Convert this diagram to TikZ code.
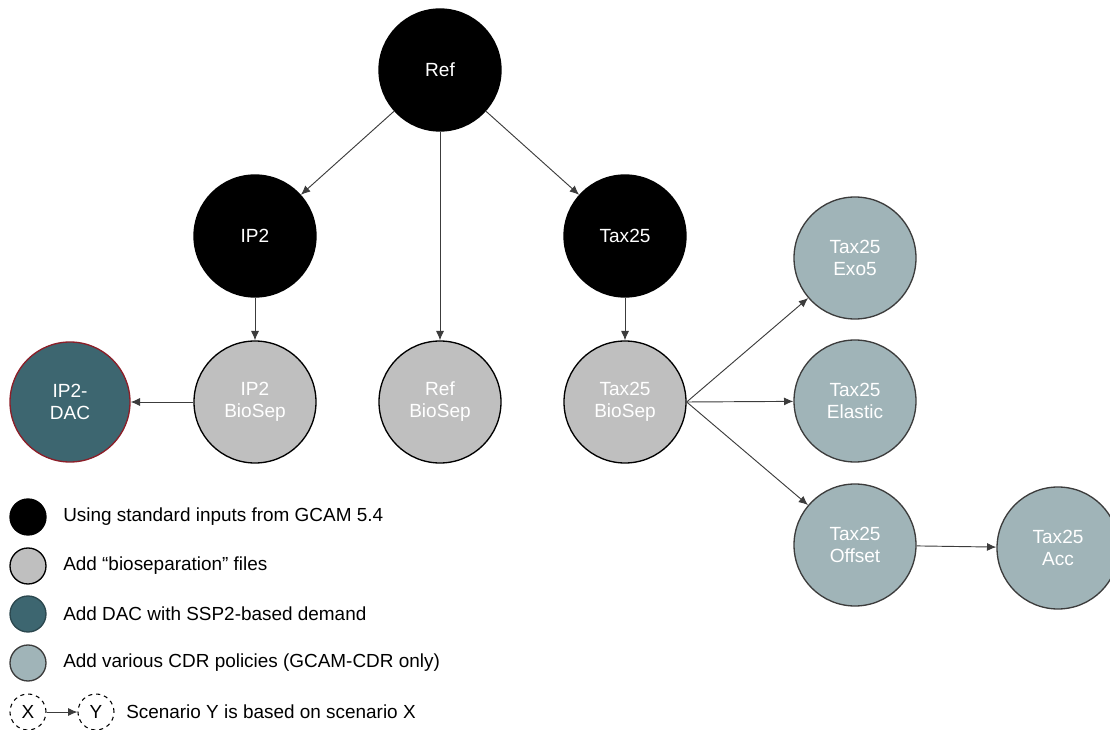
\documentclass[tikz,border=0pt]{standalone}
\usepackage{fontspec}
\setmainfont{Liberation Sans}
\usetikzlibrary{arrows.meta}
\definecolor{biogray}{RGB}{191,191,191}
\definecolor{dacteal}{RGB}{61,102,112}
\definecolor{cdrteal}{RGB}{160,180,184}
\definecolor{dacred}{RGB}{140,30,40}
\definecolor{linegray}{RGB}{60,60,60}
\tikzset{
  scen/.style={circle, minimum size=122pt*0.75, inner sep=0pt, align=center, text=white, font=\fontsize{14.3}{16.5}\selectfont, line width=1pt},
  basescen/.style={scen, fill=black, draw=black},
  bioscen/.style={scen, fill=biogray, draw=black},
  dacscen/.style={scen, fill=dacteal, draw=dacred},
  cdrscen/.style={scen, fill=cdrteal, draw=linegray},
  legdot/.style={circle, minimum size=27pt, inner sep=0pt, line width=1pt},
  legtext/.style={anchor=west, inner sep=0pt, font=\fontsize{14.2}{16}\selectfont},
  conn/.style={draw=linegray, line width=0.7pt, -{Latex[length=7pt,width=6pt]}},
}
\begin{document}
\begin{tikzpicture}[x=0.75pt,y=-0.75pt]
\useasboundingbox (0,0) rectangle (1110,730);
% scenario nodes
\node[basescen] (ref) at (440,70) {Ref};
\node[basescen] (ip2) at (255,236) {IP2};
\node[basescen] (tax) at (625,236) {Tax25};
\node[dacscen, minimum size=120pt*0.75] (dac) at (70,402) {IP2-\\DAC};
\node[bioscen] (ip2b) at (255,402) {IP2\\BioSep};
\node[bioscen] (refb) at (440,402) {Ref\\BioSep};
\node[bioscen] (taxb) at (625,402) {Tax25\\BioSep};
\node[cdrscen] (exo) at (855,258) {Tax25\\Exo5};
\node[cdrscen] (ela) at (855,401) {Tax25\\Elastic};
\node[cdrscen] (off) at (855,545) {Tax25\\Offset};
\node[cdrscen] (acc) at (1058,548) {Tax25\\Acc};
% connectors
\draw[conn] (ref) -- (ip2);
\draw[conn] (ref) -- (refb);
\draw[conn] (ref) -- (tax);
\draw[conn] (ip2) -- (ip2b);
\draw[conn] (tax) -- (taxb);
\draw[conn] (ip2b) -- (dac);
\draw[conn] (taxb.east) -- (exo);
\draw[conn] (taxb.east) -- (ela);
\draw[conn] (taxb.east) -- (off);
\draw[conn] (off) -- (acc);
% legend
\node[legdot, fill=black, draw=black] (l1) at (28,517) {};
\node[legdot, fill=biogray, draw=black] (l2) at (28,566) {};
\node[legdot, fill=dacteal, draw=dacteal!70!black] (l3) at (28,614) {};
\node[legdot, fill=cdrteal, draw=linegray] (l4) at (28,663) {};
\node[legtext] (t1) at (63,517) {Using standard inputs from GCAM 5.4};
\node[legtext] (t2) at (63,566) {Add “bioseparation” files};
\node[legtext] (t3) at (63,614) {Add DAC with SSP2-based demand};
\node[legtext] (t4) at (63,663) {Add various CDR policies (GCAM-CDR only)};
\node[legdot, draw=black, dash pattern=on 3pt off 3pt, line width=0.8pt, font=\fontsize{14.2}{16}\selectfont] (lx) at (28,712) {X};
\node[legdot, draw=black, dash pattern=on 3pt off 3pt, line width=0.8pt, font=\fontsize{14.2}{16}\selectfont] (ly) at (96,712) {Y};
\draw[conn] (lx) -- (ly);
\node[legtext] (t5) at (126,712) {Scenario Y is based on scenario X};
\end{tikzpicture}
\end{document}
